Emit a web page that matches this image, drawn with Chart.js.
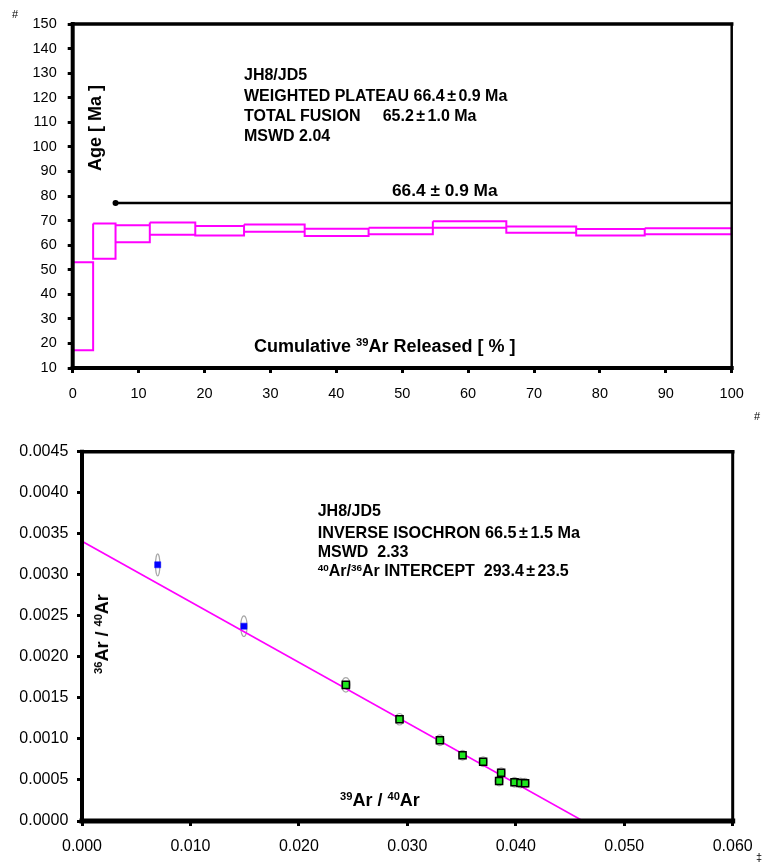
<!DOCTYPE html>
<html><head><meta charset="utf-8">
<script src="https://cdn.jsdelivr.net/npm/chart.js@4.4.1/dist/chart.umd.min.js"></script>
<style>
html,body{margin:0;padding:0;background:#fff;width:766px;height:864px;overflow:hidden;font-family:"Liberation Sans",Arial,sans-serif;}
#c1wrap{position:absolute;left:0;top:0;width:766px;height:410px;}
#c2wrap{position:absolute;left:0;top:410px;width:766px;height:454px;}
.t{position:absolute;font-weight:bold;color:#000;white-space:pre;line-height:1;}
.n{position:absolute;color:#000;white-space:pre;line-height:1;font-size:11px;}
.sup{font-size:0.62em;position:relative;top:-0.55em;}
.pm{display:inline-block;padding:0 2.5px;}
</style></head><body>
<div id="c1wrap"><canvas id="c1" width="766" height="410"></canvas></div>
<div id="c2wrap"><canvas id="c2" width="766" height="454"></canvas></div>
<script>
// ---------- Age spectrum data ----------
const cumRelease = [0, 3.1, 6.5, 11.7, 18.6, 26.0, 35.2, 44.9, 54.65, 65.8, 76.4, 86.8, 100];
const ageLow  = [17.2, 54.5, 61.2, 64.2, 63.9, 65.4, 63.7, 64.4, 67.1, 65.0, 63.9, 64.4];
const ageHigh = [53.0, 68.8, 68.1, 69.2, 67.8, 68.4, 66.7, 67.1, 69.7, 67.6, 66.6, 66.9];
const plateauRange = [6.5, 100];
const plateauBarAge = 77.2;
const ageTicks = {min: 10, max: 150, step: 10};
const releaseTicks = {min: 0, max: 100, step: 10};

// ---------- Inverse isochron data ----------
const blueX = [0.00698, 0.01493];
const blueY = [0.003122, 0.002374];
const blueXErr = [0.0002, 0.0003];
const blueYErr = [0.000134, 0.000126];
const greenX = [0.02433, 0.02928, 0.03300, 0.03509, 0.03699, 0.03865, 0.03846, 0.03988, 0.04043, 0.04086];
const greenY = [0.001659, 0.00124, 0.000984, 0.000801, 0.000723, 0.000589, 0.000488, 0.000472, 0.000463, 0.00046];
const greenXErr = [0.0004, 0.00038, 0.00038, 0.00036, 0.00036, 0.00036, 0.00036, 0.00036, 0.00036, 0.00036];
const greenYErr = [0.000088, 0.00007, 0.000066, 0.00006, 0.00006, 0.00006, 0.00006, 0.00006, 0.00006, 0.00006];
const isoLineX = [0, 0.0462];
const isoLineY = [0.003408, 0];
const isoXTicks = {min: 0, max: 0.06, step: 0.01};
const isoYTicks = {min: 0, max: 0.0045, step: 0.0005};

// ---------- helpers ----------
function framePlugin(w) {
  return {
    id: 'frame',
    afterDatasetsDraw(chart) {
      const a = chart.chartArea, ctx = chart.ctx;
      ctx.save();
      ctx.strokeStyle = '#000';
      ctx.lineCap = 'square';
      const seg = (x1, y1, x2, y2, lw) => {
        ctx.lineWidth = lw; ctx.beginPath(); ctx.moveTo(x1, y1); ctx.lineTo(x2, y2); ctx.stroke();
      };
      seg(a.left, a.top, a.right, a.top, w.top);
      seg(a.right, a.top, a.right, a.bottom, w.right);
      seg(a.left, a.bottom, a.right, a.bottom, w.bottom);
      seg(a.left, a.top, a.left, a.bottom, w.left);
      ctx.restore();
    }
  };
}
const tickFont = (s) => ({family: '"Liberation Sans", Arial, sans-serif', size: s});

// ---------- Chart 1: age spectrum ----------
const boxPts = [];
for (let i = 0; i < ageLow.length; i++) {
  const x0 = cumRelease[i], x1 = cumRelease[i + 1];
  boxPts.push({x: x0, y: ageHigh[i]}, {x: x1, y: ageHigh[i]}, {x: x1, y: ageLow[i]},
              {x: x0, y: ageLow[i]}, {x: x0, y: ageHigh[i]}, {x: x1, y: null});
}
new Chart(document.getElementById('c1'), {
  type: 'scatter',
  data: {
    datasets: [
      {
        data: plateauRange.map(x => ({x, y: plateauBarAge})),
        showLine: true, borderColor: '#000', borderWidth: 2.5,
        pointRadius: [3, 0], pointBackgroundColor: '#000', pointBorderWidth: 0
      },
      {
        type: 'line', data: boxPts, showLine: true, spanGaps: false,
        borderColor: '#ff00ff', borderWidth: 2, pointRadius: 0, tension: 0
      }
    ]
  },
  options: {
    responsive: false, animation: false, devicePixelRatio: 1,
    layout: {padding: {top: 24, right: 34.3, bottom: 0, left: 0}},
    plugins: {legend: {display: false}, tooltip: {enabled: false}},
    scales: {
      x: {
        type: 'linear', min: releaseTicks.min, max: releaseTicks.max,
        ticks: {stepSize: releaseTicks.step, color: '#000', font: tickFont(14.5), padding: 12, maxRotation: 0},
        grid: {drawOnChartArea: false, drawTicks: true, tickLength: 5, tickWidth: 3, tickColor: '#000'},
        border: {display: false},
        afterFit: s => { s.height = 42; }
      },
      y: {
        type: 'linear', min: ageTicks.min, max: ageTicks.max,
        ticks: {stepSize: ageTicks.step, color: '#000', font: tickFont(14.5), padding: 11},
        grid: {drawOnChartArea: false, drawTicks: true, tickLength: 5, tickWidth: 3, tickColor: '#000'},
        border: {display: false},
        afterFit: s => { s.width = 72.7; }
      }
    }
  },
  plugins: [framePlugin({top: 3.5, right: 2.5, bottom: 4, left: 4})]
});

// ---------- Chart 2: inverse isochron ----------
const ellipsePlugin = {
  id: 'ellipses',
  beforeDatasetsDraw(chart) {
    const xs = chart.scales.x, ys = chart.scales.y, ctx = chart.ctx;
    ctx.save();
    ctx.strokeStyle = '#a8a8a8'; ctx.lineWidth = 1.2;
    const draw = (X, Y, EX, EY) => {
      for (let i = 0; i < X.length; i++) {
        const cx = xs.getPixelForValue(X[i]), cy = ys.getPixelForValue(Y[i]);
        const rx = Math.abs(xs.getPixelForValue(X[i] + EX[i]) - cx);
        const ry = Math.abs(ys.getPixelForValue(Y[i] + EY[i]) - cy);
        ctx.beginPath(); ctx.ellipse(cx, cy, rx, ry, 0, 0, Math.PI * 2); ctx.stroke();
      }
    };
    draw(blueX, blueY, blueXErr, blueYErr);
    draw(greenX, greenY, greenXErr, greenYErr);
    ctx.restore();
  }
};
new Chart(document.getElementById('c2'), {
  type: 'scatter',
  data: {
    datasets: [
      {
        data: greenX.map((x, i) => ({x, y: greenY[i]})),
        pointStyle: 'rect', pointRadius: 5, backgroundColor: '#1ee61e', borderColor: '#000', borderWidth: 1.5
      },
      {
        data: blueX.map((x, i) => ({x, y: blueY[i]})),
        pointStyle: 'rect', pointRadius: 4.3, backgroundColor: '#0000ff', borderColor: '#0000ff', borderWidth: 0.5
      },
      {
        data: isoLineX.map((x, i) => ({x, y: isoLineY[i]})),
        showLine: true, borderColor: '#ff00ff', borderWidth: 1.6, pointRadius: 0
      }
    ]
  },
  options: {
    responsive: false, animation: false, devicePixelRatio: 1,
    layout: {padding: {top: 41.7, right: 33.3, bottom: 0, left: 0}},
    plugins: {legend: {display: false}, tooltip: {enabled: false}},
    scales: {
      x: {
        type: 'linear', min: isoXTicks.min, max: isoXTicks.max,
        ticks: {stepSize: isoXTicks.step, color: '#000', font: tickFont(16), padding: 10.5, maxRotation: 0,
                callback: v => Number(v).toFixed(3)},
        grid: {drawOnChartArea: false, drawTicks: true, tickLength: 5, tickWidth: 3, tickColor: '#000'},
        border: {display: false},
        afterFit: s => { s.height = 43; }
      },
      y: {
        type: 'linear', min: isoYTicks.min, max: isoYTicks.max,
        ticks: {stepSize: isoYTicks.step, color: '#000', font: tickFont(16), padding: 8.7,
                callback: v => Number(v).toFixed(4)},
        grid: {drawOnChartArea: false, drawTicks: true, tickLength: 5, tickWidth: 3, tickColor: '#000'},
        border: {display: false},
        afterFit: s => { s.width = 82; }
      }
    }
  },
  plugins: [ellipsePlugin, framePlugin({top: 3.5, right: 3, bottom: 5, left: 4})]
});

// ---------- text ----------
function addText(html, x, cy, fs, cls) {
  const d = document.createElement('div');
  d.className = cls || 't';
  d.innerHTML = html;
  d.style.fontSize = fs + 'px';
  d.style.left = x + 'px';
  d.style.top = (cy - 0.49 * fs) + 'px';
  document.body.appendChild(d);
  return d;
}
function addRot(html, cx, cy, fs) {
  const d = document.createElement('div');
  d.className = 't';
  d.innerHTML = html;
  d.style.fontSize = fs + 'px';
  d.style.left = cx + 'px';
  d.style.top = cy + 'px';
  d.style.transform = 'translate(-50%,-50%) rotate(-90deg)';
  document.body.appendChild(d);
}
const S = n => '<span class="sup">' + n + '</span>';
const PM = '<span class="pm">\u00b1</span>';

addText('#', 12, 14, 11, 'n');
addText('#', 754, 416, 11, 'n');
addText('\u2021', 756, 857, 11, 'n');

addText('JH8/JD5', 244, 75, 16);
addText('WEIGHTED PLATEAU 66.4' + PM + '0.9 Ma', 244, 96.3, 16);
addText('TOTAL FUSION     65.2' + PM + '1.0 Ma', 244, 115.6, 16);
addText('MSWD 2.04', 244, 136, 16);
addText('66.4 \u00b1 0.9 Ma', 392, 190.3, 17.3);
addText('Cumulative ' + S('39') + 'Ar Released [ % ]', 254, 346, 18);
addRot('Age [ Ma ]', 95, 127.5, 18);

addText('JH8/JD5', 317.7, 511, 16);
addText('INVERSE ISOCHRON 66.5' + PM + '1.5 Ma', 317.7, 532.3, 16.2);
addText('MSWD  2.33', 317.7, 552, 16);
addText(S('40') + 'Ar/' + S('36') + 'Ar INTERCEPT  293.4' + PM + '23.5', 317.7, 571, 16);
addText(S('39') + 'Ar / ' + S('40') + 'Ar', 340, 800, 18);
addRot(S('36') + 'Ar / ' + S('40') + 'Ar', 101.7, 633.5, 18);
</script>
</body></html>
